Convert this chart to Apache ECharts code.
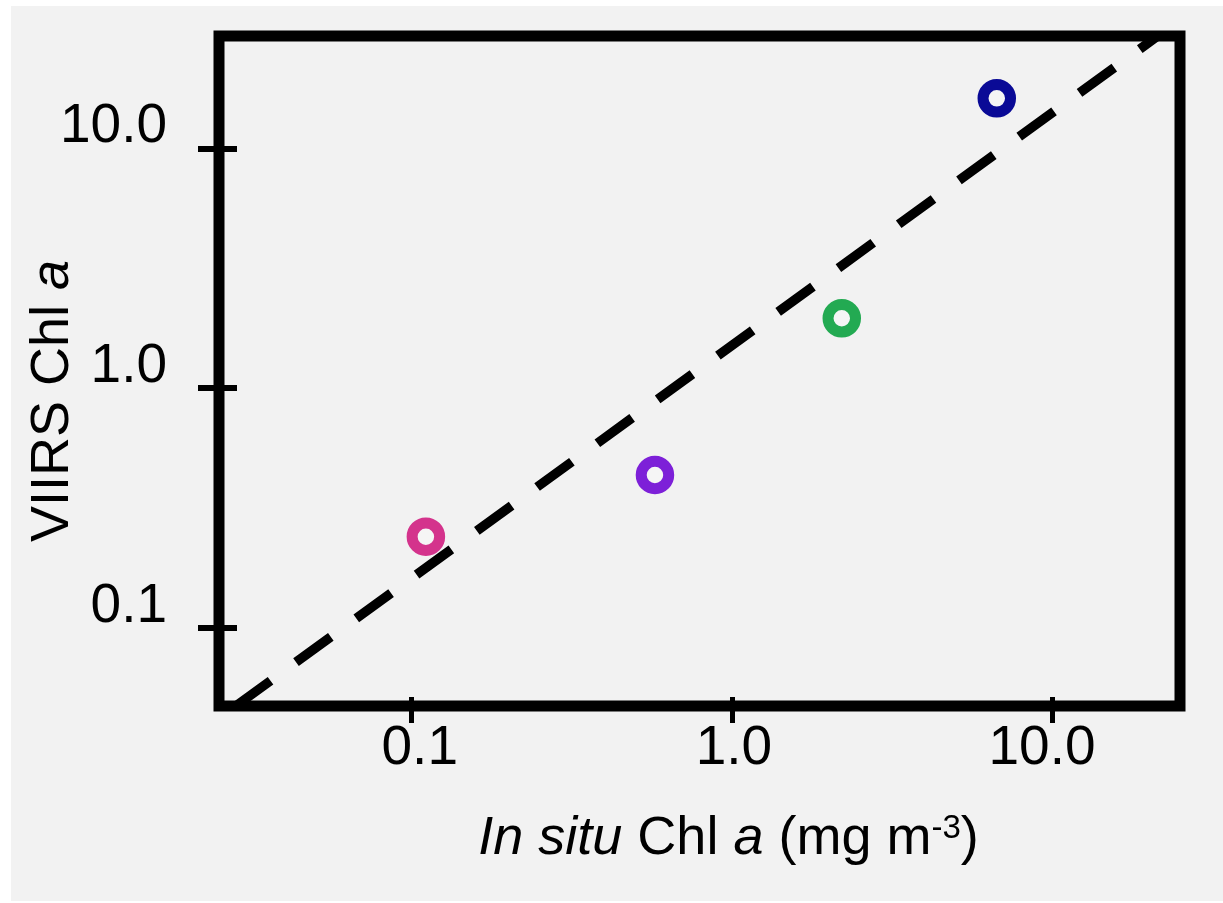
<!DOCTYPE html>
<html>
<head>
<meta charset="utf-8">
<style>
  html, body { margin: 0; padding: 0; background: #ffffff; }
  #bg { position: absolute; left: 11px; top: 6px; width: 1212px; height: 895px; background: #f2f2f2; }
  #chart { position: absolute; left: 0; top: 0; width: 1223px; height: 903px; }
</style>
<script src="https://cdn.jsdelivr.net/npm/echarts@6/dist/echarts.min.js"></script>
</head>
<body>
<div id="bg"></div>
<div id="chart"></div>
<script>
// In situ Chl a (x) vs VIIRS Chl a (y), mg m-3
var inSitu = [0.1107, 0.575, 2.204, 6.72];
var viirs = [0.2402, 0.4344, 1.956, 16.16];
var pointColors = ['#d4338c', '#7d20d8', '#23aa52', '#0a0a96'];
// dashed fit line end points
var fitX = [0.0282, 21.4];
var fitY = [0.0473, 29.4];
// axis ticks
var xTicks = [0.1, 1, 10];
var yTicks = [0.1, 1, 10];
var xRange = [0.025, 25.1];
var yRange = [0.0473, 29.39];

var FONT = '"Liberation Sans", Arial, Helvetica, sans-serif';
var fmt = function (v) { return Number(v).toFixed(1); };
// small horizontal nudges of x tick labels (as in the original figure)
var xLabelRich = {
  l0: { fontFamily: FONT, fontSize: 55, color: '#000', padding: [0, 0, 0, 16] },
  l1: { fontFamily: FONT, fontSize: 55, color: '#000', padding: [0, 0, 0, 4] },
  l2: { fontFamily: FONT, fontSize: 55, color: '#000', padding: [0, 20, 0, 0] }
};
var xFmt = function (v) {
  var idx = Math.round(Math.log10(v)) + 1;
  return '{l' + idx + '|' + fmt(v) + '}';
};

var chart = echarts.init(document.getElementById('chart'), null, { renderer: 'canvas' });

var baseX = {
  type: 'log', logBase: 10, min: xRange[0], max: xRange[1],
  splitLine: { show: false }, axisLine: { show: false }
};
var baseY = {
  type: 'log', logBase: 10, min: yRange[0], max: yRange[1],
  splitLine: { show: false }, axisLine: { show: false }
};

var option = {
  backgroundColor: 'transparent',
  animation: false,
  grid: {
    left: 219, top: 36, width: 961, height: 670,
    containLabel: false, outerBoundsMode: 'none',
    show: true, borderColor: '#000', borderWidth: 11, backgroundColor: 'transparent'
  },
  xAxis: [
    Object.assign({}, baseX, {
      position: 'bottom',
      name: '{i|In situ} Chl {i|a} (mg m{sup|-3})',
      nameLocation: 'middle', nameGap: 106, nameMoveOverlap: false,
      nameTextStyle: {
        fontFamily: FONT, fontSize: 54, color: '#000', padding: [0, 0, 0, 58],
        rich: {
          i: { fontFamily: FONT, fontSize: 54, fontStyle: 'italic', color: '#000' },
          sup: { fontFamily: FONT, fontSize: 33, color: '#000', verticalAlign: 'top' }
        }
      },
      axisTick: { show: true, inside: false, length: 17, lineStyle: { color: '#000', width: 5 }, customValues: xTicks },
      axisLabel: { show: true, margin: 15, fontFamily: FONT, fontSize: 55, color: '#000', formatter: xFmt,
                   rich: xLabelRich, customValues: xTicks }
    }),
    Object.assign({}, baseX, {
      position: 'bottom',
      axisTick: { show: true, inside: true, length: 9, lineStyle: { color: '#000', width: 5 }, customValues: xTicks },
      axisLabel: { show: false }
    })
  ],
  yAxis: [
    Object.assign({}, baseY, {
      position: 'left',
      name: 'VIIRS Chl {i|a}',
      nameLocation: 'middle', nameGap: 139, nameRotate: 90, nameMoveOverlap: false,
      nameTextStyle: {
        fontFamily: FONT, fontSize: 54, color: '#000', padding: [0, 60, 0, 0],
        rich: { i: { fontFamily: FONT, fontSize: 54, fontStyle: 'italic', color: '#000' } }
      },
      axisTick: { show: true, inside: false, length: 21, lineStyle: { color: '#000', width: 6 }, customValues: yTicks },
      axisLabel: { show: true, margin: 52, fontFamily: FONT, fontSize: 55, color: '#000', formatter: fmt,
                   customValues: yTicks, verticalAlign: 'bottom', lineHeight: 43 }
    }),
    Object.assign({}, baseY, {
      position: 'left',
      axisTick: { show: true, inside: true, length: 18, lineStyle: { color: '#000', width: 6 }, customValues: yTicks },
      axisLabel: { show: false }
    })
  ],
  series: [
    {
      type: 'line',
      xAxisIndex: 0, yAxisIndex: 0,
      data: fitX.map(function (x, i) { return [x, fitY[i]]; }),
      symbol: 'none', clip: true, z: 1,
      lineStyle: { color: '#000', width: 9.5, type: [43, 31.5], cap: 'butt' }
    },
    {
      type: 'scatter',
      xAxisIndex: 0, yAxisIndex: 0,
      symbol: 'circle', symbolSize: 27.5, z: 3,
      data: inSitu.map(function (x, i) {
        return {
          value: [x, viirs[i]],
          itemStyle: { color: '#f5f5f5', borderColor: pointColors[i], borderWidth: 11, opacity: 1 }
        };
      })
    }
  ]
};
chart.setOption(option);
</script>
</body>
</html>
